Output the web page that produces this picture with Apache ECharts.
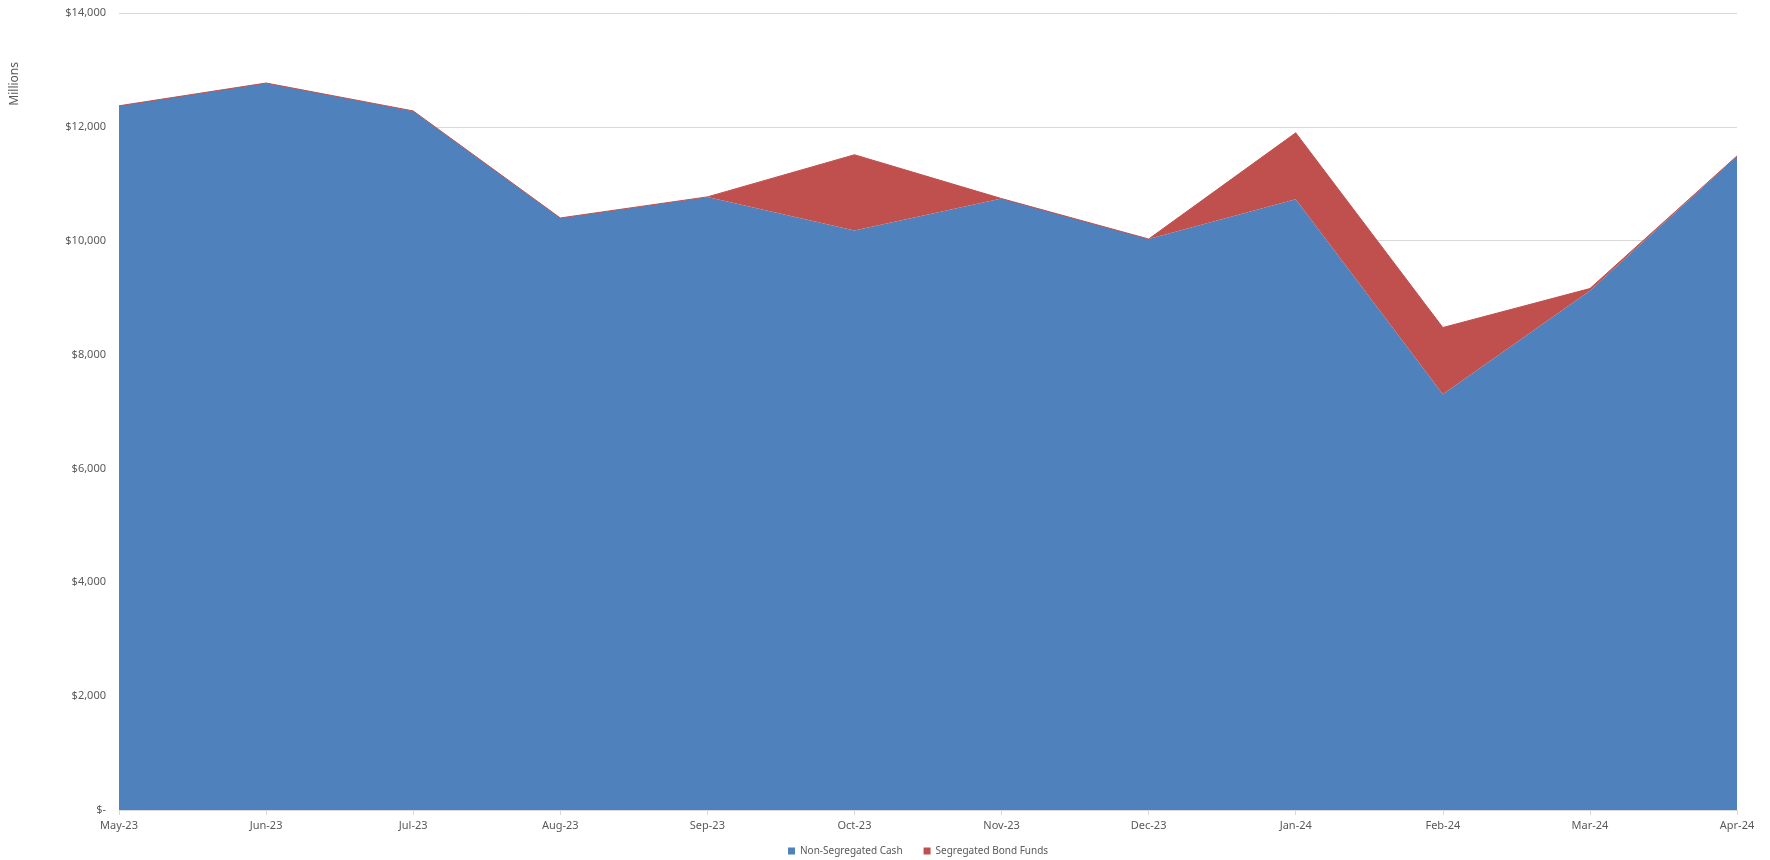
<!DOCTYPE html>
<html>
<head>
<meta charset="utf-8">
<script src="https://cdn.jsdelivr.net/npm/echarts@6/dist/echarts.min.js"></script>
<style>
  html, body { margin: 0; padding: 0; background: #fff; }
  #chart { width: 1770px; height: 860px; }
</style>
</head>
<body>
<div id="chart"></div>
<script>
const months = ['May-23', 'Jun-23', 'Jul-23', 'Aug-23', 'Sep-23', 'Oct-23',
                'Nov-23', 'Dec-23', 'Jan-24', 'Feb-24', 'Mar-24', 'Apr-24'];
// millions
const nonSegregatedCash = [12370, 12770, 12280, 10400, 10770, 10180, 10740, 10030, 10730, 7305, 9120, 11490];
const segregatedBondFunds = [0, 0, 0, 0, 0, 1330, 0, 0, 1165, 1170, 40, 0];

const font = '"Noto Sans", "Open Sans", sans-serif';

const myChart = echarts.init(document.getElementById('chart'));
myChart.setOption({
    animation: false,
    textStyle: { fontFamily: font },
    grid: {
        left: 119,
        right: 33,
        top: 13,
        bottom: 50,
    },
    legend: {
        left: 783,
        top: 841,
        itemWidth: 7,
        itemHeight: 7,
        itemGap: 21,
        icon: 'rect',
        textStyle: { color: '#595959', fontSize: 10, fontFamily: font },
        data: ['Non-Segregated Cash', 'Segregated Bond Funds'],
    },
    graphic: [{
        type: 'text',
        left: 9,
        top: 62,
        rotation: Math.PI / 2,
        style: { text: 'Millions', fill: '#595959', font: '12px ' + font },
    }],
    xAxis: {
        type: 'category',
        boundaryGap: false,
        data: months,
        axisLine: { lineStyle: { color: '#d9d9d9', width: 1 } },
        axisTick: { show: true, alignWithLabel: true, length: 5, lineStyle: { color: '#d9d9d9' } },
        axisLabel: { color: '#595959', fontSize: 11, margin: 10 },
        splitLine: { show: false },
    },
    yAxis: {
        type: 'value',
        min: 0,
        max: 14000,
        interval: 2000,
        axisLine: { show: false },
        axisTick: { show: false },
        axisLabel: {
            color: '#595959',
            fontSize: 11,
            margin: 13,
            formatter: v => v === 0 ? '$-' : '$' + v.toLocaleString('en-US'),
        },
        splitLine: { lineStyle: { color: '#d9d9d9', width: 1 } },
    },
    series: [{
        name: 'Non-Segregated Cash',
        type: 'line',
        stack: 'total',
        data: nonSegregatedCash,
        showSymbol: false,
        lineStyle: { width: 0, color: '#4F81BD' },
        itemStyle: { color: '#4F81BD' },
        areaStyle: { color: '#4F81BD', opacity: 1 },
    }, {
        name: 'Segregated Bond Funds',
        type: 'line',
        stack: 'total',
        data: segregatedBondFunds,
        showSymbol: false,
        lineStyle: { width: 1, color: '#C0504D' },
        itemStyle: { color: '#C0504D' },
        areaStyle: { color: '#C0504D', opacity: 1 },
    }],
});
</script>
</body>
</html>
